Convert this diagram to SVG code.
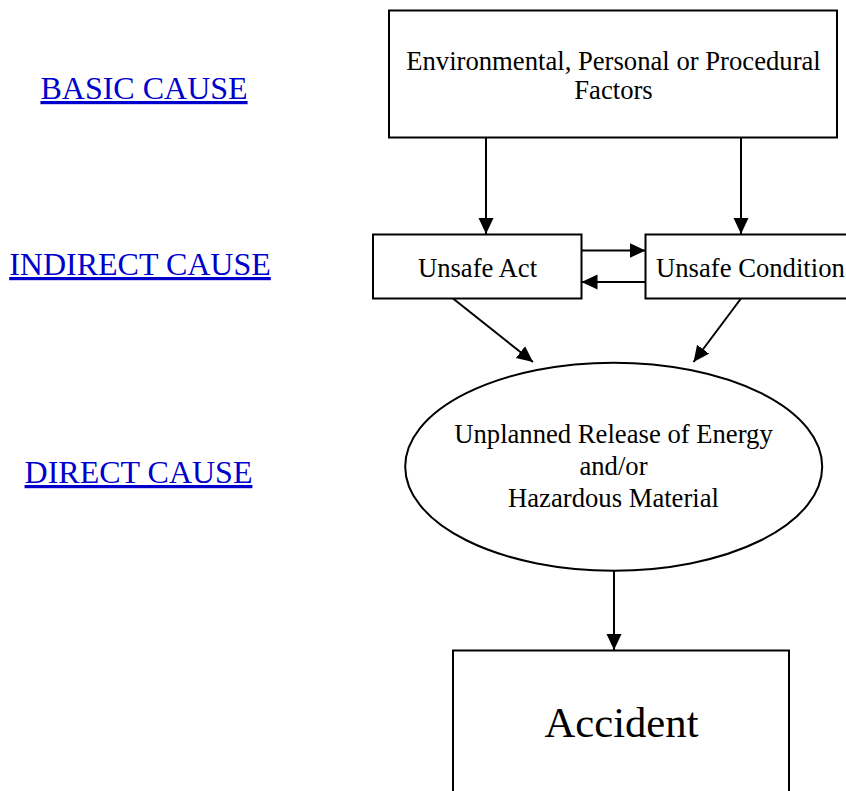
<svg xmlns="http://www.w3.org/2000/svg" width="846" height="791" viewBox="0 0 846 791">
<defs>
<style>
.node{fill:#fff;stroke:#000;stroke-width:2}
.t{font-family:"Liberation Serif","Times New Roman",serif;font-size:26.67px;fill:#000;text-anchor:middle}
.lbl{font-family:"Liberation Serif","Times New Roman",serif;font-size:32px;fill:#0000CC;text-anchor:middle;text-decoration:underline}
.c{stroke:#000;stroke-width:2;fill:none;marker-end:url(#ah)}
</style>
<marker id="ah" markerUnits="userSpaceOnUse" markerWidth="17" markerHeight="16" refX="16" refY="7.5" orient="auto" viewBox="0 0 17 16">
<path d="M0,0 L16,7.5 L0,15 z" fill="#000"/>
</marker>
</defs>
<rect width="846" height="791" fill="#fff"/>
<g id="labels">
<text class="lbl" x="144" y="99">BASIC CAUSE</text>
<text class="lbl" x="140" y="275">INDIRECT CAUSE</text>
<text class="lbl" x="138.5" y="483">DIRECT CAUSE</text>
</g>
<g id="connectors">
<line class="c" x1="486" y1="137" x2="486" y2="234"/>
<line class="c" x1="741" y1="137" x2="741" y2="234"/>
<line class="c" x1="581.5" y1="250.5" x2="645.5" y2="250.5"/>
<line class="c" x1="645.5" y1="282" x2="581.5" y2="282"/>
<line class="c" x1="453" y1="298.5" x2="533" y2="362"/>
<line class="c" x1="741" y1="298.5" x2="693.5" y2="362"/>
<line class="c" x1="614" y1="571" x2="614" y2="650"/>
</g>
<g id="basic">
<rect class="node" x="389" y="10.5" width="448" height="127"/>
<text class="t" x="613.5" y="70">Environmental, Personal or Procedural</text>
<text class="t" x="613.5" y="99">Factors</text>
</g>
<g id="act">
<rect class="node" x="373" y="234.5" width="208.5" height="64"/>
<text class="t" x="477.5" y="277">Unsafe Act</text>
</g>
<g id="condition">
<rect class="node" x="645.5" y="234.5" width="220" height="64"/>
<text class="t" x="656" y="277" style="text-anchor:start">Unsafe Condition</text>
</g>
<g id="release">
<ellipse class="node" cx="613.7" cy="466.7" rx="208.5" ry="104"/>
<text class="t" x="613.5" y="443">Unplanned Release of Energy</text>
<text class="t" x="613.5" y="475">and/or</text>
<text class="t" x="613.5" y="507">Hazardous Material</text>
</g>
<g id="accident">
<rect class="node" x="453" y="650.5" width="336" height="160"/>
<text class="t" x="621.5" y="737" style="font-size:42.67px">Accident</text>
</g>
</svg>
